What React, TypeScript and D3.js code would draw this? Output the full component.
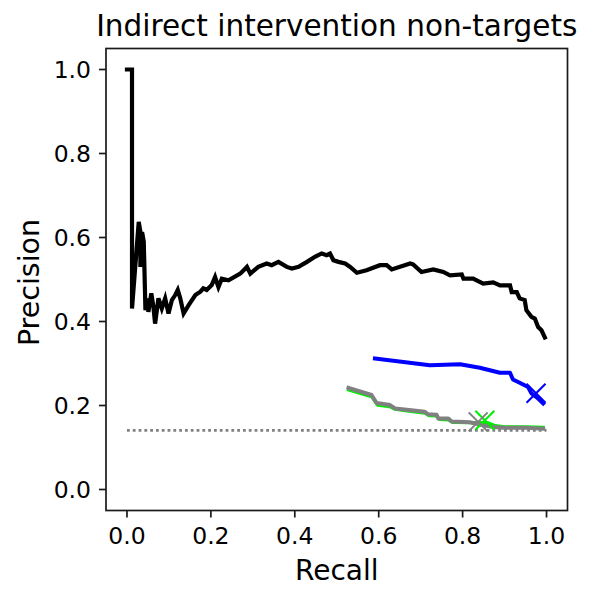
import React from "react";
import * as d3 from "d3";

const xTicks = [0, 0.2, 0.4, 0.6, 0.8, 1.0];
const yTicks = [0, 0.2, 0.4, 0.6, 0.8, 1.0];

const blackRecall = [0, 0.012, 0.012, 0.028, 0.032, 0.032, 0.036, 0.040, 0.044, 0.048, 0.051, 0.058, 0.063, 0.067, 0.075, 0.083, 0.091, 0.099, 0.107, 0.115, 0.121, 0.127, 0.135, 0.147, 0.163, 0.175, 0.182, 0.19, 0.202, 0.21, 0.218, 0.226, 0.242, 0.27, 0.286, 0.294, 0.313, 0.333, 0.345, 0.361, 0.381, 0.393, 0.409, 0.429, 0.448, 0.464, 0.476, 0.484, 0.492, 0.504, 0.52, 0.532, 0.548, 0.571, 0.603, 0.619, 0.631, 0.675, 0.682, 0.702, 0.73, 0.754, 0.77, 0.798, 0.802, 0.825, 0.849, 0.873, 0.889, 0.913, 0.917, 0.929, 0.936, 0.948, 0.952, 0.964, 0.972, 0.98, 0.988, 0.996];
const blackPrecision = [1.0, 1.0, 0.431, 0.637, 0.613, 0.53, 0.613, 0.59, 0.427, 0.455, 0.423, 0.467, 0.435, 0.395, 0.455, 0.431, 0.455, 0.419, 0.451, 0.463, 0.475, 0.455, 0.419, 0.439, 0.463, 0.471, 0.479, 0.475, 0.487, 0.506, 0.482, 0.502, 0.498, 0.514, 0.53, 0.514, 0.53, 0.538, 0.534, 0.542, 0.53, 0.526, 0.53, 0.542, 0.554, 0.562, 0.558, 0.562, 0.546, 0.542, 0.538, 0.53, 0.516, 0.522, 0.534, 0.534, 0.524, 0.538, 0.536, 0.518, 0.524, 0.518, 0.51, 0.512, 0.502, 0.502, 0.49, 0.493, 0.486, 0.486, 0.47, 0.47, 0.455, 0.451, 0.427, 0.411, 0.407, 0.387, 0.379, 0.362];

const blueRecall = [0.591, 0.722, 0.794, 0.841, 0.889, 0.913, 0.92, 0.936, 0.956, 0.964, 0.976, 0.988, 0.992];
const bluePrecision = [0.312, 0.296, 0.298, 0.29, 0.278, 0.278, 0.262, 0.254, 0.244, 0.229, 0.22, 0.209, 0.205];

const greenRecall = [0.528, 0.583, 0.597, 0.627, 0.639, 0.667, 0.71, 0.72, 0.738, 0.745, 0.766, 0.776, 0.82, 0.86, 0.878, 0.9, 0.95, 0.992];
const greenPrecision = [0.237, 0.221, 0.201, 0.197, 0.191, 0.187, 0.182, 0.176, 0.175, 0.167, 0.166, 0.16, 0.159, 0.159, 0.152, 0.149, 0.149, 0.148];

const grayRecall = [0.528, 0.583, 0.595, 0.627, 0.639, 0.667, 0.71, 0.718, 0.738, 0.742, 0.766, 0.774, 0.817, 0.849, 0.873, 0.897, 0.95, 0.992];
const grayPrecision = [0.242, 0.225, 0.206, 0.201, 0.193, 0.19, 0.185, 0.179, 0.178, 0.169, 0.169, 0.162, 0.16, 0.153, 0.149, 0.147, 0.147, 0.145];

const baselineRecall = [0, 1];
const baselinePrecision = [0.141, 0.141];

const markerNames = ["blue", "green", "gray"];
const markerRecall = [0.975, 0.853, 0.837];
const markerPrecision = [0.229, 0.165, 0.161];
const markerColors = ["#0000ff", "#00ee00", "#808080"];

const W = 590, H = 601;
const L = 106, T = 48.5, R = 567.5, B = 510.5;
const FONT = "'DejaVu Sans', sans-serif";

export default function App() {
  const x = d3.scaleLinear().domain([-0.05, 1.05]).range([L, R]);
  const y = d3.scaleLinear().domain([-0.05, 1.05]).range([B, T]);
  const mk = (xs: number[], ys: number[]) =>
    d3.line<number>().x((_, i) => x(xs[i])).y((_, i) => y(ys[i]))(xs) || "";

  const ms = 9.5;
  return (
    <svg width={W} height={H} style={{ position: "absolute", left: 0, top: 0, background: "#fff" }} fontFamily={FONT}>
      <rect x={0} y={0} width={W} height={H} fill="#fff" />
      <defs>
        <clipPath id="plot"><rect x={L} y={T} width={R - L} height={B - T} /></clipPath>
      </defs>
      <g clipPath="url(#plot)" fill="none" strokeLinejoin="round">
        <path d={mk(blackRecall, blackPrecision)} stroke="#000" strokeWidth={4.2} strokeLinecap="square" strokeLinejoin="miter" />
        <path d={mk(blueRecall, bluePrecision)} stroke="#0000ff" strokeWidth={4} strokeLinecap="square" />
        <path d={mk(greenRecall, greenPrecision)} stroke="#00ee00" strokeWidth={3.2} strokeLinecap="square" />
        <path d={mk(grayRecall, grayPrecision)} stroke="#808080" strokeWidth={4} strokeLinecap="square" />
        <path d={mk(baselineRecall, baselinePrecision)} stroke="#808080" strokeWidth={2.8} strokeDasharray="2.8,3" />
        {markerNames.map((n, i) => {
          const cx = x(markerRecall[i]), cy = y(markerPrecision[i]);
          return (
            <g key={n} stroke={markerColors[i]} strokeWidth={2}>
              <line x1={cx - ms} y1={cy - ms} x2={cx + ms} y2={cy + ms} />
              <line x1={cx - ms} y1={cy + ms} x2={cx + ms} y2={cy - ms} />
            </g>
          );
        })}
      </g>
      <rect x={L} y={T} width={R - L} height={B - T} fill="none" stroke="#1a1a1a" strokeWidth={1.7} />
      {xTicks.map((t) => (
        <g key={"x" + t}>
          <line x1={x(t)} x2={x(t)} y1={B} y2={B + 7} stroke="#1a1a1a" strokeWidth={1.7} />
          <text x={x(t)} y={544} textAnchor="middle" fontSize={23.5} fill="#000">{t.toFixed(1)}</text>
        </g>
      ))}
      {yTicks.map((t) => (
        <g key={"y" + t}>
          <line x1={L - 7} x2={L} y1={y(t)} y2={y(t)} stroke="#1a1a1a" strokeWidth={1.7} />
          <text x={91} y={y(t)} dy="0.36em" textAnchor="end" fontSize={23.5} fill="#000">{t.toFixed(1)}</text>
        </g>
      ))}
      <text x={(L + R) / 2} y={580} textAnchor="middle" fontSize={28} fill="#000">Recall</text>
      <text transform={`translate(39,${(T + B) / 2 + 3}) rotate(-90)`} textAnchor="middle" fontSize={28.5} fill="#000">Precision</text>
      <text x={(L + R) / 2} y={36} textAnchor="middle" fontSize={29.5} fill="#000">Indirect intervention non-targets</text>
    </svg>
  );
}
